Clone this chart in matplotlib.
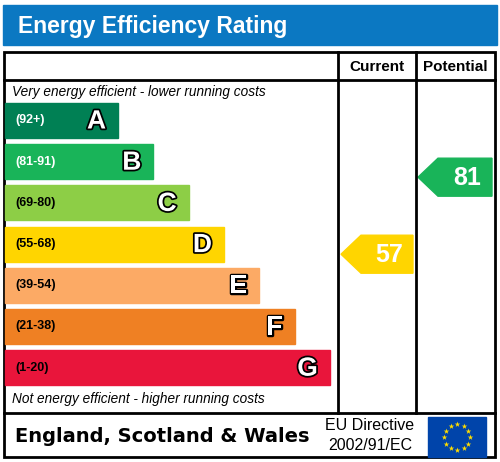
import matplotlib
matplotlib.use("Agg")
import matplotlib.pyplot as plt
from matplotlib.patches import Rectangle, Polygon
import matplotlib.patheffects as pe
import numpy as np

bands = ["A", "B", "C", "D", "E", "F", "G"]
ranges = ["(92+)", "(81-91)", "(69-80)", "(55-68)", "(39-54)", "(21-38)", "(1-20)"]
lows = [92, 81, 69, 55, 39, 21, 1]
highs = [100, 91, 80, 68, 54, 38, 20]
colors = ["#008054", "#19b459", "#8dce46", "#ffd500", "#fcaa65", "#ef8023", "#e9153b"]
current = 57
potential = 81

fig = plt.figure(figsize=(5, 4.62), dpi=100)
ax = fig.add_axes([0, 0, 1, 1])
ax.set_xlim(0, 500); ax.set_ylim(462, 0); ax.axis("off")

ax.add_patch(Rectangle((3, 5), 494, 40, color="#0b78c2"))
ax.text(18, 26, "Energy Efficiency Rating", color="white", fontsize=16.5, fontweight="bold", va="center", family="Liberation Sans")

lw = 2
ax.add_patch(Rectangle((4, 52), 491, 405, fill=False, ec="black", lw=lw))
ax.plot([4, 495], [80, 80], color="black", lw=lw)
ax.plot([4, 495], [413, 413], color="black", lw=lw)
ax.plot([338, 338], [52, 413], color="black", lw=lw)
ax.plot([416, 416], [52, 413], color="black", lw=lw)
ax.text(377, 67, "Current", ha="center", va="center", fontsize=11, fontweight="bold", family="Liberation Sans")
ax.text(455, 67, "Potential", ha="center", va="center", fontsize=11, fontweight="bold", family="Liberation Sans")
ax.text(12, 92, "Very energy efficient - lower running costs", fontsize=9.8, style="italic", va="center", family="Liberation Sans")
ax.text(12, 399, "Not energy efficient - higher running costs", fontsize=9.8, style="italic", va="center", family="Liberation Sans")

top0, h, step = 103, 35, 41.2
for i, b in enumerate(bands):
    y = top0 + i * step
    right = 118 + i * 35.3
    ax.add_patch(Rectangle((5, y), right - 5, h, color=colors[i]))
    tc = "white" if i < 2 else "black"
    ax.text(15, y + h / 2, ranges[i], color=tc, fontsize=9, fontweight="bold", va="center", family="Liberation Sans")
    t = ax.text(right - 12, y + h / 2 + 1, b, color="white", fontsize=19, fontweight="bold", ha="right", va="center", family="Liberation Sans")
    t.set_path_effects([pe.Stroke(linewidth=2.5, foreground="black"), pe.Normal()])

def arrow(value, x0, x1):
    i = next(k for k in range(7) if lows[k] <= value <= highs[k])
    yc = top0 + i * step + (highs[i] - value) / (highs[i] - lows[i]) * h - 2
    hh = 19
    ax.add_patch(Polygon([(x0, yc), (x0 + 20, yc - hh), (x1, yc - hh), (x1, yc + hh), (x0 + 20, yc + hh)], color=colors[i]))
    ax.text((x0 + 20 + x1) / 2 + 2, yc + 1, str(value), color="white", fontsize=18, fontweight="bold", ha="center", va="center", family="Liberation Sans")

arrow(current, 341, 413)
arrow(potential, 418, 492)

ax.text(15, 436, "England, Scotland & Wales", fontsize=14, fontweight="bold", va="center", family="DejaVu Sans")
ax.text(370, 426, "EU Directive", fontsize=11.5, ha="center", va="center", family="Liberation Sans")
ax.text(370, 446, "2002/91/EC", fontsize=11.5, ha="center", va="center", family="Liberation Sans")
ax.add_patch(Rectangle((428, 417), 58, 40, color="#0044aa"))
ang = np.linspace(0, 2 * np.pi, 13)[:-1]
ax.scatter(457 + 13 * np.cos(ang), 437 + 13 * np.sin(ang), marker="*", s=18, color="#ffdd00", lw=0)

fig.savefig("out.png", dpi=100)
